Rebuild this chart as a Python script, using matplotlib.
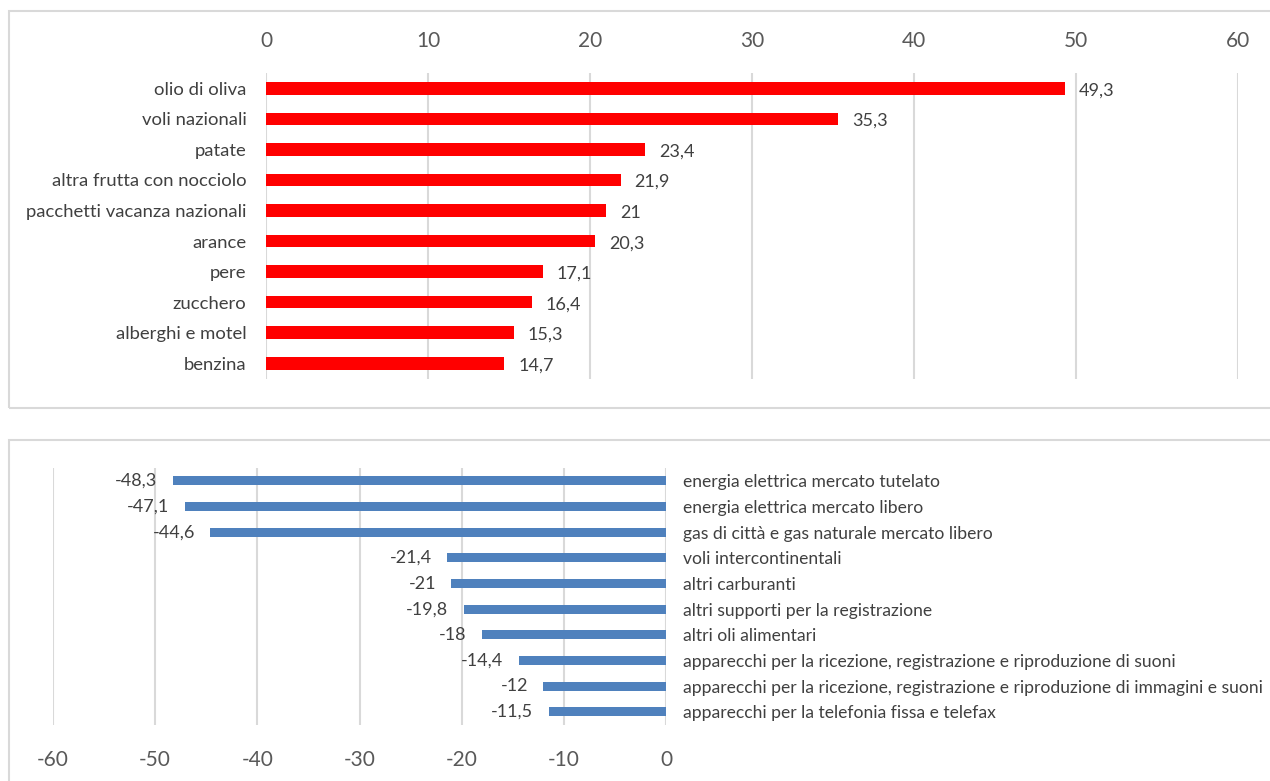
import matplotlib.pyplot as plt
from matplotlib.patches import Rectangle

plt.rcParams['font.family'] = ['Lato', 'DejaVu Sans']
plt.rcParams['axes.unicode_minus'] = False

# prodotti con i maggiori aumenti
up_labels = ['olio di oliva', 'voli nazionali', 'patate', 'altra frutta con nocciolo',
             'pacchetti vacanza nazionali', 'arance', 'pere', 'zucchero',
             'alberghi e motel', 'benzina']
up_values = [49.3, 35.3, 23.4, 21.9, 21, 20.3, 17.1, 16.4, 15.3, 14.7]

# prodotti con le maggiori diminuzioni
down_labels = ['energia elettrica mercato tutelato', 'energia elettrica mercato libero',
               'gas di città e gas naturale mercato libero', 'voli intercontinentali',
               'altri carburanti', 'altri supporti per la registrazione',
               'altri oli alimentari',
               'apparecchi per la ricezione, registrazione e riproduzione di suoni',
               'apparecchi per la ricezione, registrazione e riproduzione di immagini e suoni',
               'apparecchi per la telefonia fissa e telefax']
down_values = [-48.3, -47.1, -44.6, -21.4, -21, -19.8, -18, -14.4, -12, -11.5]

top_ticks = [0, 10, 20, 30, 40, 50, 60]
bottom_ticks = [-60, -50, -40, -30, -20, -10, 0]

grid_col = '#D9D9D9'
tick_col = '#595959'
text_col = '#404040'


def fmt(v):
    return ('%g' % v).replace('.', ',')


fig = plt.figure(figsize=(12.7, 7.81), dpi=100)

# cornici dei due pannelli
fig.patches.append(Rectangle((9 / 1270, 1 - 408 / 781), 1.0, 397 / 781,
                             transform=fig.transFigure, fill=False,
                             edgecolor=grid_col, linewidth=1.5))
fig.patches.append(Rectangle((9 / 1270, -0.05), 1.0, 1 - 440 / 781 + 0.05,
                             transform=fig.transFigure, fill=False,
                             edgecolor=grid_col, linewidth=1.5))

# --- pannello superiore ---
ax1 = fig.add_axes([266 / 1270, 1 - 378.6 / 781, (1238 - 266) / 1270, 305.6 / 781])
y1 = range(len(up_values))
ax1.barh(y1, up_values, height=0.41, color='#FF0000', zorder=3)
ax1.set_xlim(0, 60)
ax1.set_ylim(len(up_values) - 0.5, -0.5)
ax1.set_xticks(top_ticks)
ax1.xaxis.tick_top()
ax1.set_yticks(list(y1))
ax1.set_yticklabels(up_labels)
ax1.tick_params(axis='x', length=0, pad=16, labelsize=15, labelcolor=tick_col)
ax1.tick_params(axis='y', length=0, pad=14, labelsize=13.3, labelcolor=text_col)
ax1.grid(axis='x', color=grid_col, linewidth=1.5, zorder=0)
for s in ax1.spines.values():
    s.set_visible(False)
for i, v in enumerate(up_values):
    ax1.annotate(fmt(v), (v, i), xytext=(10, -1.5), textcoords='offset points',
                 va='center', ha='left', fontsize=13, color=text_col)

# --- pannello inferiore ---
ax2 = fig.add_axes([53 / 1270, 1 - 724.7 / 781, (666 - 53) / 1270, 256.7 / 781])
y2 = range(len(down_values))
ax2.barh(y2, down_values, height=0.35, color='#4F81BD', zorder=3)
ax2.set_xlim(-60, 0)
ax2.set_ylim(len(down_values) - 0.5, -0.5)
ax2.set_xticks(bottom_ticks)
ax2.yaxis.tick_right()
ax2.set_yticks(list(y2))
ax2.set_yticklabels(down_labels)
ax2.tick_params(axis='x', length=0, pad=18, labelsize=15, labelcolor=tick_col)
ax2.tick_params(axis='y', length=0, pad=12, labelsize=12.6, labelcolor=text_col)
ax2.grid(axis='x', color=grid_col, linewidth=1.5, zorder=0)
for s in ax2.spines.values():
    s.set_visible(False)
for i, v in enumerate(down_values):
    ax2.annotate(fmt(v), (v, i), xytext=(-11, 0), textcoords='offset points',
                 va='center', ha='right', fontsize=13, color=text_col)

fig.savefig('out.png', dpi=100)
